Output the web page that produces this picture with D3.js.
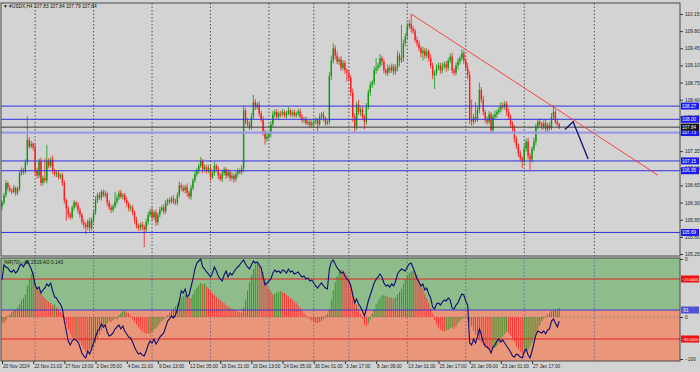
<!DOCTYPE html>
<html>
<head>
<meta charset="utf-8">
<script src="https://cdn.jsdelivr.net/npm/d3@7"></script>
<style>
body { margin: 0; background: #d3d3d3; }
svg { display: block; font-family: "Liberation Sans", Arial, sans-serif; }
</style>
</head>
<body>
<div class="chart"></div>
<script>
// H4 closes, one per bar (20 Nov 2024 05:00 .. 29 Jan 2025)
const firstOpen = 106.22;
const closes = [
106.30,106.45,106.70,106.60,106.55,106.52,106.60,106.50,106.58,106.90,
106.97,106.93,107.12,107.58,107.45,107.50,107.42,106.95,106.85,107.15,
106.70,106.80,106.75,107.15,107.05,107.18,106.95,106.88,106.90,106.82,
106.86,106.70,106.35,106.18,106.05,106.00,106.20,106.30,106.25,106.15,
106.05,105.90,105.85,105.80,105.92,105.78,105.95,106.10,106.35,106.45,
106.40,106.52,106.45,106.48,106.30,106.20,106.15,106.22,106.32,106.40,
106.50,106.42,106.45,106.35,106.28,106.18,106.20,106.10,105.95,105.82,
105.78,105.85,105.80,105.75,105.90,106.05,106.12,106.00,106.10,105.90,
106.05,106.15,106.20,106.12,106.30,106.35,106.32,106.38,106.33,106.30,
106.45,106.65,106.60,106.55,106.62,106.50,106.42,106.60,106.75,106.88,
106.95,107.05,107.15,106.98,107.02,106.95,107.00,106.82,106.90,107.05,
106.98,106.85,106.78,106.90,106.98,106.85,106.92,106.80,106.85,106.78,
106.88,106.95,106.92,107.00,108.18,107.95,107.90,107.85,108.05,108.35,
108.25,108.30,108.12,108.00,107.75,107.60,107.65,107.70,107.90,108.10,
108.15,108.05,108.12,108.10,108.15,108.08,108.12,108.18,108.10,108.14,
108.08,108.12,108.16,108.05,107.98,108.00,107.92,107.95,107.88,107.92,
107.95,107.98,107.90,108.05,108.10,108.02,107.92,107.95,108.88,109.20,
109.45,109.30,109.18,109.22,109.05,109.15,109.00,108.95,108.85,108.55,
108.05,107.85,108.30,108.15,108.20,108.05,107.95,108.25,108.55,108.70,
108.75,109.00,109.05,109.10,109.25,109.18,109.00,108.95,109.05,109.00,
109.08,108.98,109.05,109.30,109.20,109.25,109.55,109.70,109.90,109.95,
109.85,109.80,109.62,109.55,109.45,109.35,109.40,109.30,109.38,109.25,
109.10,108.90,108.95,109.05,109.10,109.00,109.08,109.12,109.05,109.20,
109.28,109.00,108.95,109.10,109.18,109.25,109.35,109.20,109.05,108.90,
108.00,107.95,108.05,108.00,108.20,108.60,108.40,108.15,108.00,107.95,
108.10,107.78,108.05,108.10,108.15,108.20,108.28,108.25,108.32,108.15,
108.05,107.90,107.80,107.60,107.45,107.30,107.20,107.15,107.40,107.55,
107.25,107.18,107.40,107.55,107.85,107.95,107.90,107.85,107.92,107.80,
107.88,107.82,108.05,108.15,107.95,107.90,107.84
];
// wick lengths above / below the body, in hundredths
const wickUp = [
4,5,6,3,5,4,6,3,5,4, 5,3,6,48,5,6,4,8,6,5, 7,5,40,33,6,5,8,4,5,6, 4,5,6,4,5,6,4,5,3,6,
5,4,6,5,4,7,5,6,8,5, 6,4,5,7,4,5,6,5,20,6, 5,6,4,5,7,4,6,5,4,6, 5,4,6,5,7,6,5,8,4,6,
5,6,4,7,5,4,6,5,7,5, 6,8,5,6,4,7,5,6,5,7, 6,5,8,4,6,5,7,5,6,8, 4,6,5,7,5,4,6,5,7,5,
6,5,4,6,10,5,7,6,8,15, 6,5,7,5,6,4,8,5,6,7, 5,6,4,5,6,4,5,7,4,5, 6,4,5,6,5,4,6,5,4,6,
5,6,4,7,5,6,4,5,8,10, 10,6,8,5,7,6,5,4,6,5, 8,7,6,10,5,6,4,8,6,7, 5,8,20,6,8,5,6,4,7,5,
6,5,7,10,6,68,8,6,7,8, 20,6,5,7,6,5,8,6,7,5, 8,6,5,7,6,5,8,6,7,5, 6,8,5,6,7,5,8,6,5,10,
8,40,6,30,7,15,6,8,5,6, 7,5,6,8,5,6,7,6,6,5, 7,5,6,8,5,6,7,5,8,6, 7,6,5,8,6,5,7,5,6,7,
5,6,8,14,5,6,3
];
const wickDn = [
8,4,5,6,4,5,3,6,5,4, 5,6,4,6,5,4,6,8,6,5, 6,5,4,6,5,4,7,5,6,5, 4,6,7,25,6,5,4,6,5,7,
6,5,8,15,6,7,5,6,5,6, 5,6,4,5,7,5,6,5,4,6, 5,4,6,5,7,6,5,6,8,5, 6,5,7,36,5,6,4,7,5,8,
6,5,4,6,5,7,5,4,6,5, 6,5,7,4,6,8,5,6,5,4, 5,6,4,8,5,6,5,7,4,6, 5,7,4,6,5,7,4,6,5,7,
5,6,4,5,8,6,5,7,6,5, 6,5,7,6,8,12,6,5,7,5, 6,4,5,6,4,5,6,4,5,6, 4,5,6,4,5,6,4,5,6,4,
5,6,15,4,5,6,5,4,6,8, 6,8,5,7,6,5,7,18,6,8, 10,13,7,6,8,6,15,6,5,7, 6,5,7,6,5,8,6,5,7,6,
5,8,6,7,12,5,8,6,7,5, 8,6,5,7,6,8,15,6,5,7, 6,8,28,6,5,7,6,5,8,6, 5,7,6,5,8,6,5,7,6,8,
10,8,6,7,5,8,6,7,8,6, 5,8,6,5,7,5,6,5,6,8, 6,7,5,8,6,7,6,15,8,6, 7,21,6,5,8,6,5,7,6,5,
6,5,4,6,5,4,4
];
// Williams %R(70), one per bar
const percentR = [
-21,-6,-8,-9,-12,-13,-11,-14,-12,-7, -5,-8,-4,-2,-6,-10,-16,-26,-30,-28,
-34,-31,-29,-25,-27,-24,-32,-38,-39,-43, -45,-50,-62,-72,-82,-86,-82,-80,-81,-83,
-88,-94,-97,-99,-92,-95,-90,-84,-78,-72, -70,-65,-68,-66,-73,-77,-76,-74,-70,-68,
-66,-70,-67,-72,-75,-78,-79,-83,-88,-92, -95,-94,-96,-97,-92,-86,-82,-84,-80,-85,
-82,-78,-76,-74,-68,-62,-60,-57,-59,-56, -50,-42,-32,-34,-30,-38,-36,-28,-20,-10,
-4,-2,0,-8,-10,-13,-15,-18,-14,-8, -12,-17,-20,-22,-16,-12,-18,-14,-16,-13,
-10,-8,-6,-3,-1,-5,-8,-10,-6,-2, -4,-3,-6,-9,-18,-26,-24,-22,-20,-14,
-11,-13,-12,-14,-11,-12,-14,-10,-13,-12, -15,-14,-13,-16,-18,-17,-20,-19,-22,-21,
-24,-27,-29,-26,-24,-27,-29,-30,-10,-3, -1,-5,-9,-11,-14,-13,-17,-20,-22,-27,
-36,-44,-40,-45,-48,-52,-57,-50,-42,-36, -30,-24,-20,-18,-15,-18,-24,-27,-26,-28,
-25,-27,-22,-15,-12,-10,-11,-12,-8,-5, -4,-9,-14,-20,-23,-27,-25,-31,-29,-35,
-39,-48,-50,-45,-44,-46,-43,-41,-42,-39, -41,-49,-50,-46,-44,-39,-35,-36,-42,-46,
-84,-86,-80,-84,-78,-70,-76,-83,-87,-88, -90,-94,-88,-86,-82,-80,-83,-81,-84,-87,
-90,-93,-97,-98,-95,-96,-98,-99,-93,-90, -96,-99,-92,-84,-76,-72,-73,-74,-72,-75,
-71,-70,-62,-60,-64,-68,-62.2519
];
// Awesome Oscillator, one per bar
const aoValues = [
-0.08,-0.10,-0.06,0.02,0.04,0.08,0.10,0.12,0.15,0.20, 0.26,0.30,0.36,0.50,0.60,0.68,0.72,0.55,0.48,0.43,
0.38,0.34,0.30,0.27,0.24,0.22,0.19,0.20,0.15,0.12, 0.08,0.03,-0.04,-0.12,-0.20,-0.27,-0.32,-0.34,-0.33,-0.36,
-0.40,-0.45,-0.50,-0.55,-0.57,-0.52,-0.50,-0.47,-0.41,-0.35, -0.28,-0.22,-0.17,-0.13,-0.10,-0.07,-0.08,-0.05,-0.02,-0.04,
0.03,0.06,0.09,0.10,0.07,0.06,0.01,-0.04,-0.08,-0.12, -0.16,-0.20,-0.23,-0.25,-0.27,-0.26,-0.27,-0.24,-0.21,-0.18,
-0.14,-0.10,-0.07,-0.04,-0.01,0.03,0.07,0.10,0.13,0.17, 0.21,0.26,0.30,0.33,0.36,0.34,0.31,0.30,0.36,0.42,
0.47,0.51,0.54,0.52,0.53,0.48,0.45,0.42,0.38,0.35, 0.32,0.29,0.27,0.24,0.22,0.19,0.17,0.15,0.13,0.12,
0.10,0.09,0.08,0.07,0.15,0.28,0.42,0.55,0.66,0.76, 0.83,0.87,0.85,0.80,0.72,0.62,0.52,0.45,0.40,0.36,
0.37,0.39,0.40,0.41,0.40,0.38,0.35,0.33,0.30,0.28, 0.25,0.22,0.19,0.15,0.10,0.06,0.03,-0.01,-0.04,-0.06,
-0.08,-0.09,-0.10,-0.08,-0.06,-0.03,0.02,0.05,0.12,0.28, 0.42,0.55,0.65,0.72,0.75,0.74,0.71,0.66,0.60,0.52,
0.42,0.30,0.20,0.12,0.05,-0.03,-0.12,-0.15,-0.10,-0.04, 0.05,0.12,0.20,0.26,0.31,0.34,0.35,0.33,0.32,0.31,
0.30,0.29,0.31,0.36,0.40,0.45,0.52,0.60,0.66,0.70, 0.72,0.73,0.70,0.67,0.60,0.52,0.45,0.37,0.30,0.22,
0.14,0.05,-0.05,-0.12,-0.17,-0.20,-0.22,-0.23,-0.22,-0.20, -0.18,-0.17,-0.19,-0.15,-0.10,-0.06,-0.04,-0.02,0.01,-0.03,
-0.07,-0.15,-0.22,-0.28,-0.33,-0.37,-0.41,-0.45,-0.48,-0.50, -0.51,-0.52,-0.50,-0.49,-0.46,-0.41,-0.36,-0.31,-0.27,-0.24,
-0.26,-0.30,-0.35,-0.40,-0.46,-0.51,-0.55,-0.59,-0.58,-0.56, -0.52,-0.47,-0.41,-0.34,-0.27,-0.20,-0.13,-0.07,-0.03,0.01,
0.04,0.07,0.09,0.11,0.12,0.13,0.143
];

const timeLabels = ["20 Nov 2024","22 Nov 21:00","27 Nov 13:00","2 Dec 05:00","4 Dec 21:00","9 Dec 13:00",
  "12 Dec 05:00","16 Dec 21:00","19 Dec 13:00","24 Dec 05:00","30 Dec 01:00","3 Jan 17:00","8 Jan 09:00",
  "13 Jan 01:00","15 Jan 17:00","20 Jan 09:00","23 Jan 01:00","27 Jan 17:00"];
const weekStarts = [17, 47, 77, 107, 137, 160, 178, 208, 238, 268, 304];
const priceTicks = [110.15, 109.80, 109.45, 109.10, 108.75, 108.40, 108.05, 107.70, 107.35, 107.00, 106.65, 106.30, 105.95, 105.60, 105.25];
const levels = [108.27, 108.00, 107.15, 106.95, 105.69];
const thickLevel = 107.73;
const bid = 107.84;
const quote = ["107.83", "107.84", "107.79", "107.84"];
const trend = [[210, 110.15], [336.6, 106.86]];
const projection = [[288.9, 107.79], [293.1, 107.95], [300.8, 107.19]];
const wrLevels = [-20, -80];
const wrSplit = -51;

const width = 700, height = 372;
const plot = {left: 1, right: 680, top: 3, mainBottom: 256, subTop: 258, subBottom: 361};
const bull = "#0e9a0e", bear = "#ff1c1c", levelBlue = "#3030e0";
const fs = 4.8;

const svg = d3.select(".chart").append("svg")
  .attr("width", width)
  .attr("height", height);

const x = d3.scaleLinear().domain([0, 272]).range([2, 532]);
const yP = d3.scaleLinear().domain([105.25, 110.15]).range([254, 14]);
const yR = d3.scaleLinear().domain([-100, 0]).range([359, 259]);
const yA = d3.scaleLinear().domain([-1, 1]).range([380, 254]);

const candles = closes.map((c, i) => {
  const o = i === 0 ? firstOpen : closes[i - 1];
  return {i: i, o: o, c: c, h: Math.max(o, c) + wickUp[i] / 100, l: Math.min(o, c) - wickDn[i] / 100};
});

const defs = svg.append("defs");
defs.append("clipPath").attr("id", "clipMain").append("rect")
  .attr("x", plot.left).attr("y", plot.top)
  .attr("width", plot.right - plot.left).attr("height", plot.mainBottom - plot.top);
defs.append("clipPath").attr("id", "clipSub").append("rect")
  .attr("x", plot.left).attr("y", plot.subTop)
  .attr("width", plot.right - plot.left).attr("height", plot.subBottom - plot.subTop);

// ---------- main window ----------
const main = svg.append("g").attr("clip-path", "url(#clipMain)");

main.selectAll(".sep").data(weekStarts).enter().append("line")
  .attr("x1", d => x(d)).attr("x2", d => x(d))
  .attr("y1", plot.top).attr("y2", plot.mainBottom)
  .attr("stroke", "#333").attr("stroke-width", 0.8).attr("stroke-dasharray", "1.5,2");

main.selectAll(".wick").data(candles).enter().append("line")
  .attr("x1", d => x(d.i)).attr("x2", d => x(d.i))
  .attr("y1", d => yP(d.h)).attr("y2", d => yP(d.l))
  .attr("stroke", d => d.c >= d.o ? bull : bear)
  .attr("stroke-width", 0.8);

main.selectAll(".body").data(candles).enter().append("rect")
  .attr("x", d => x(d.i) - 0.7)
  .attr("width", 1.4)
  .attr("y", d => yP(Math.max(d.o, d.c)))
  .attr("height", d => Math.max(0.8, Math.abs(yP(d.o) - yP(d.c))))
  .attr("fill", d => d.c >= d.o ? bull : bear);

main.selectAll(".level").data(levels).enter().append("line")
  .attr("x1", plot.left).attr("x2", plot.right)
  .attr("y1", d => yP(d)).attr("y2", d => yP(d))
  .attr("stroke", levelBlue).attr("stroke-width", 1);

main.append("line")
  .attr("x1", plot.left).attr("x2", plot.right)
  .attr("y1", yP(thickLevel)).attr("y2", yP(thickLevel))
  .attr("stroke", "#9a9ae8").attr("stroke-width", 2.2);

main.append("line")
  .attr("x1", plot.left).attr("x2", plot.right)
  .attr("y1", yP(bid)).attr("y2", yP(bid))
  .attr("stroke", "#3a3a3a").attr("stroke-width", 1);

const line = d3.line().x(d => x(d[0])).y(d => yP(d[1]));
main.append("path").datum(trend).attr("d", line)
  .attr("fill", "none").attr("stroke", "#f03a3a").attr("stroke-width", 0.9);
main.append("path").datum(projection).attr("d", line)
  .attr("fill", "none").attr("stroke", "#12127a").attr("stroke-width", 1.3);

// header
svg.append("text").attr("x", 3).attr("y", 8)
  .attr("font-size", fs).attr("fill", "#111")
  .text("\u25BC #USDX,H4  " + quote.join(" "));

// price axis
const yAxis = d3.axisRight(yP).tickValues(priceTicks)
  .tickFormat(d3.format(".2f")).tickSize(3).tickPadding(2);
svg.append("g").attr("class", "axis y-axis")
  .attr("transform", "translate(" + plot.right + ",0)")
  .call(yAxis)
  .call(g => g.select(".domain").remove())
  .call(g => g.selectAll("text").attr("font-size", fs).attr("fill", "#222"))
  .call(g => g.selectAll("line").attr("stroke", "#333"));

function priceBox(value, fill, txt, scale, size) {
  const g = svg.append("g").attr("transform", "translate(681," + scale(value) + ")");
  g.append("rect").attr("x", 0).attr("y", -3.5).attr("width", 18).attr("height", 7).attr("fill", fill);
  g.append("text").attr("x", 1).attr("y", 1.7).attr("font-size", size || 4.6).attr("fill", "#fff").text(txt);
}
levels.concat([thickLevel]).forEach(v => priceBox(v, "#1a1af0", d3.format(".2f")(v), yP));
priceBox(bid, "#111", d3.format(".2f")(bid), yP);

// ---------- indicator window ----------
const sub = svg.append("g").attr("clip-path", "url(#clipSub)");

sub.append("rect").attr("x", plot.left).attr("y", plot.subTop)
  .attr("width", plot.right - plot.left).attr("height", yR(wrSplit) - plot.subTop)
  .attr("fill", "#8fbc8b");
sub.append("rect").attr("x", plot.left).attr("y", yR(wrSplit))
  .attr("width", plot.right - plot.left).attr("height", plot.subBottom - yR(wrSplit))
  .attr("fill", "#e9967a");

sub.selectAll(".sep").data(weekStarts).enter().append("line")
  .attr("x1", d => x(d)).attr("x2", d => x(d))
  .attr("y1", plot.subTop).attr("y2", plot.subBottom)
  .attr("stroke", "#5a5aa8").attr("stroke-width", 0.8).attr("stroke-dasharray", "1.5,2");

sub.append("line")
  .attr("x1", plot.left).attr("x2", plot.right)
  .attr("y1", yA(0)).attr("y2", yA(0))
  .attr("stroke", "#8a8a8a").attr("stroke-width", 0.8).attr("stroke-dasharray", "2,2");

sub.selectAll(".ao").data(aoValues).enter().append("line")
  .attr("x1", (d, i) => x(i)).attr("x2", (d, i) => x(i))
  .attr("y1", yA(0)).attr("y2", d => yA(d))
  .attr("stroke", (d, i) => i > 0 && d < aoValues[i - 1] ? "#ff2a2a" : "#2f8f1f")
  .attr("stroke-width", 0.9);

sub.selectAll(".wrlevel").data(wrLevels).enter().append("line")
  .attr("x1", plot.left).attr("x2", plot.right)
  .attr("y1", d => yR(d)).attr("y2", d => yR(d))
  .attr("stroke", "#e42222").attr("stroke-width", 1);

sub.append("line")
  .attr("x1", plot.left).attr("x2", plot.right)
  .attr("y1", yR(wrSplit)).attr("y2", yR(wrSplit))
  .attr("stroke", "#3a3ad0").attr("stroke-width", 1.2);

sub.append("path").datum(percentR)
  .attr("d", d3.line().x((d, i) => x(i)).y(d => yR(d)))
  .attr("fill", "none").attr("stroke", "#101070").attr("stroke-width", 1.1);

svg.append("text").attr("x", 4).attr("y", 264)
  .attr("font-size", fs).attr("fill", "#111")
  .text("%R(70) " + d3.format(".4f")(percentR[percentR.length - 1]) + "  AO " + aoValues[aoValues.length - 1]);

const rAxis = d3.axisRight(yR).tickValues([0, -100]).tickFormat(d3.format("d")).tickSize(3).tickPadding(2);
svg.append("g").attr("class", "axis r-axis")
  .attr("transform", "translate(" + plot.right + ",0)")
  .call(rAxis)
  .call(g => g.select(".domain").remove())
  .call(g => g.selectAll("text").attr("font-size", fs).attr("fill", "#222"))
  .call(g => g.selectAll("line").attr("stroke", "#333"));
const aAxis = d3.axisRight(yA).tickValues([0]).tickFormat(d3.format("d")).tickSize(3).tickPadding(2);
svg.append("g").attr("class", "axis a-axis")
  .attr("transform", "translate(" + plot.right + ",0)")
  .call(aAxis)
  .call(g => g.select(".domain").remove())
  .call(g => g.selectAll("text").attr("font-size", fs).attr("fill", "#222"))
  .call(g => g.selectAll("line").attr("stroke", "#333"));

wrLevels.forEach(v => priceBox(v, "#f01010", d3.format(".4f")(v), yR, 3.9));
priceBox(wrSplit, "#5252d8", String(wrSplit), yR);

// time axis
const xAxis = d3.axisBottom(x)
  .tickValues(timeLabels.map((d, k) => k * 16))
  .tickFormat((d, k) => timeLabels[k])
  .tickSize(3).tickPadding(1);
svg.append("g").attr("class", "axis x-axis")
  .attr("transform", "translate(0," + plot.subBottom + ")")
  .call(xAxis)
  .call(g => g.select(".domain").remove())
  .call(g => g.selectAll("text").attr("font-size", 4.7).attr("fill", "#222")
    .attr("text-anchor", "start").attr("dx", 0.5))
  .call(g => g.selectAll("line").attr("stroke", "#333"));

// frames
[[plot.top, plot.mainBottom], [plot.subTop, plot.subBottom]].forEach(r => {
  svg.append("rect")
    .attr("x", plot.left).attr("y", r[0])
    .attr("width", plot.right - plot.left).attr("height", r[1] - r[0])
    .attr("fill", "none").attr("stroke", "#4a4a4a").attr("stroke-width", 1);
});
</script>
</body>
</html>
